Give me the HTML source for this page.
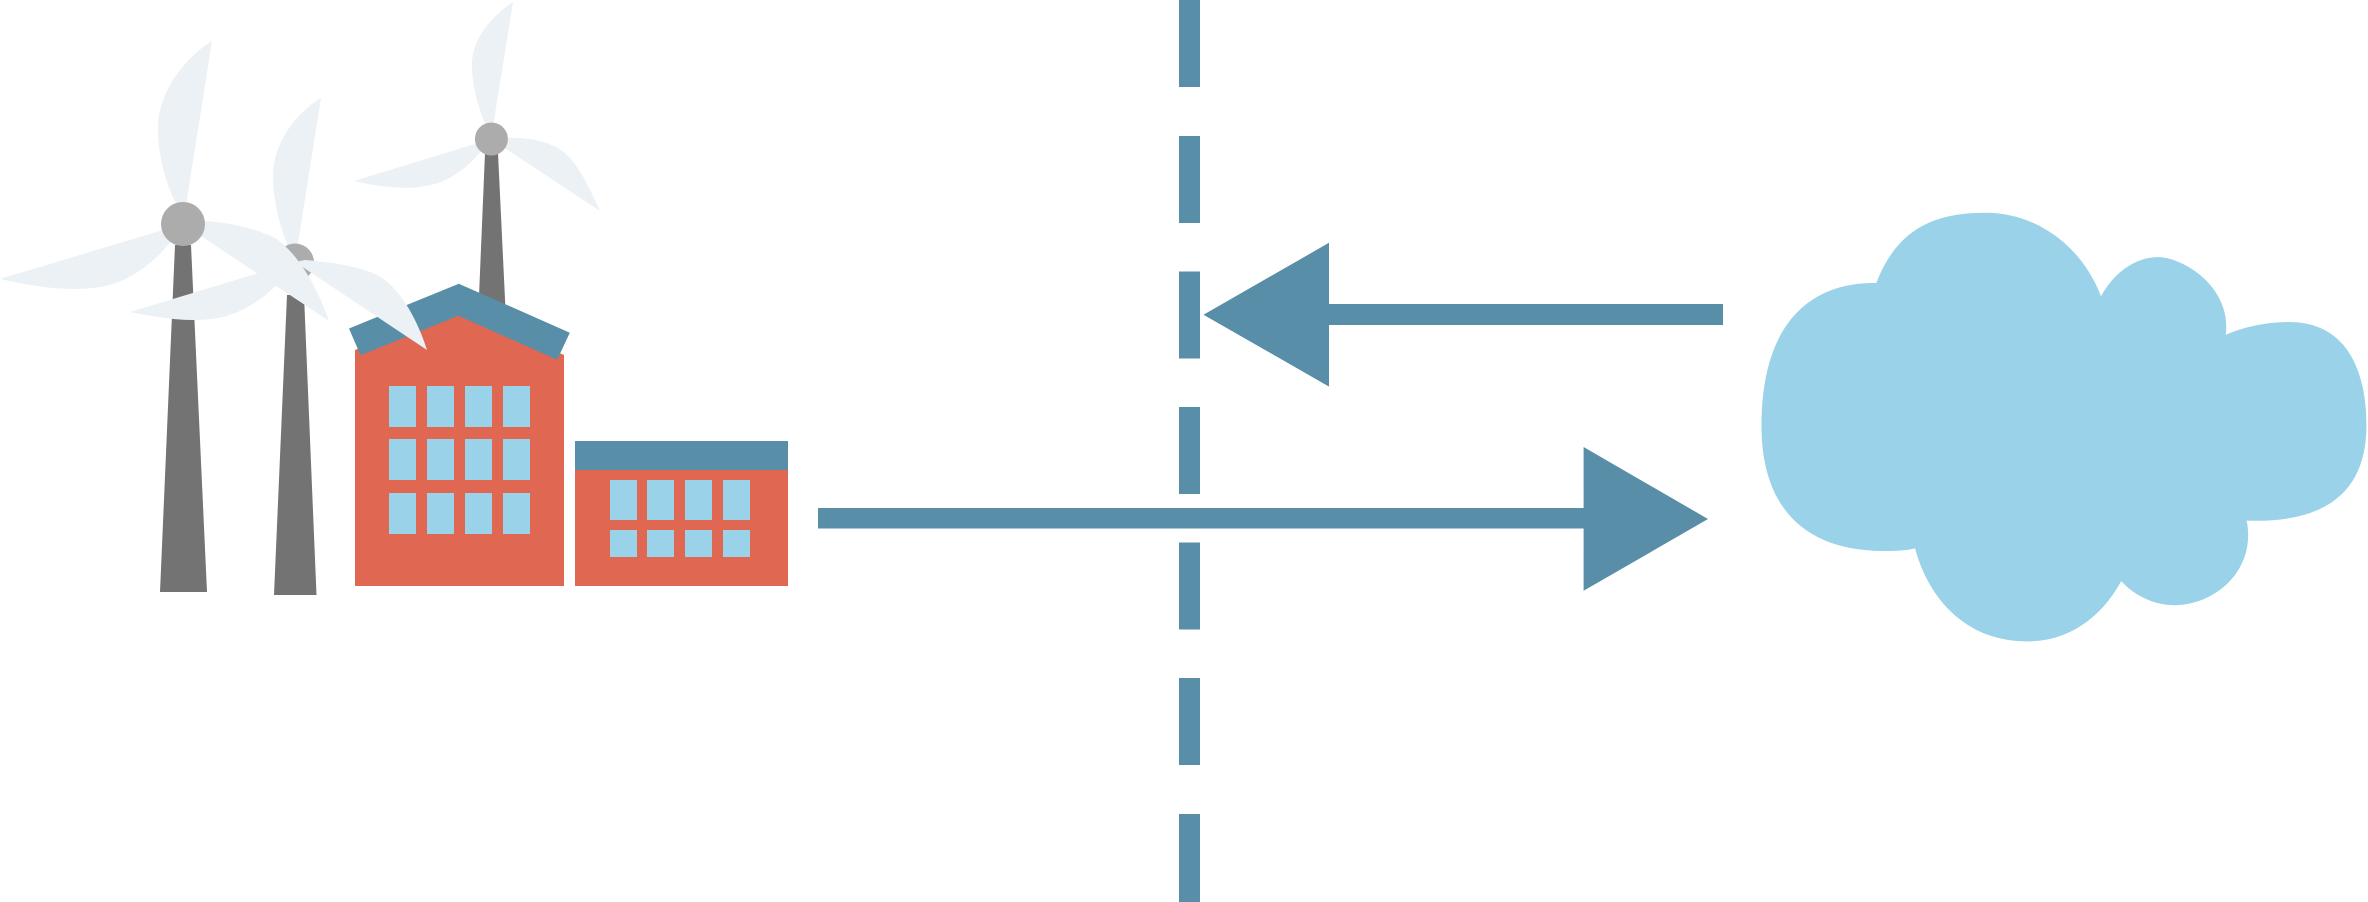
<!DOCTYPE html>
<html><head><meta charset="utf-8"><style>html,body{margin:0;padding:0;background:#fff;}svg{display:block}</style></head>
<body>
<svg width="2368" height="902" viewBox="0 0 2368 902" xmlns="http://www.w3.org/2000/svg">
<!-- right windmill -->
<polygon points="485,153 498,153 506,320 478,320" fill="#727372"/>
<path d="M491,139 L513,2 C490,18 470,40 472,70 C474,100 484,120 491,139 Z" fill="#ebf1f4"/>
<path d="M491,139 L354,181 C380,187 405,190 425,186 C455,182 475,160 491,139 Z" fill="#ebf1f4"/>
<path d="M491,139 L600,211 C590,190 578,160 558,148 C540,138 515,136 491,139 Z" fill="#ebf1f4"/>
<circle cx="491.4" cy="139" r="16.5" fill="#acacac"/>
<!-- left windmill -->
<polygon points="175,245 191,245 207,592 160,592" fill="#727372"/>
<path d="M183,224 L212,41 C185,58 160,90 158,125 C157,160 170,195 180,210 Z" fill="#ebf1f4"/>
<path d="M183,224 L0,279 C35,287 70,292 100,287 C130,282 155,262 172,240 Z" fill="#ebf1f4"/>
<!-- mid windmill -->
<polygon points="287,295 304,295 316.5,595 274,595" fill="#727372"/>
<path d="M295,262 L321,98 C298,112 274,140 273,175 C273,210 285,240 292,255 Z" fill="#ebf1f4"/>
<path d="M295,262 L130,312 C160,318 190,323 218,318 C250,312 272,290 287,275 Z" fill="#ebf1f4"/>
<circle cx="295" cy="262.5" r="19" fill="#acacac"/>
<path d="M183,224 L329,321 C318,290 300,255 275,238 C255,228 225,222 205,221 Z" fill="#ebf1f4"/>
<circle cx="183" cy="224" r="22" fill="#acacac"/>
<!-- main building -->
<polygon points="355,350 458,310 564,355 564,586 355,586" fill="#e06852"/>
<polygon points="349,328.5 458.8,283.7 569.8,332.7 557.2,359.8 458.4,315.8 360.5,355.2" fill="#588ea7"/>
<path d="M295,262 L427,350 C418,322 402,290 379,276 C360,266 330,262 305,260 Z" fill="#ebf1f4"/>
<g fill="#9ad3e9">
<rect x="389" y="386" width="27" height="41"/><rect x="427" y="386" width="27" height="41"/><rect x="465" y="386" width="27" height="41"/><rect x="503" y="386" width="27" height="41"/>
<rect x="389" y="439" width="27" height="41"/><rect x="427" y="439" width="27" height="41"/><rect x="465" y="439" width="27" height="41"/><rect x="503" y="439" width="27" height="41"/>
<rect x="389" y="493" width="27" height="41"/><rect x="427" y="493" width="27" height="41"/><rect x="465" y="493" width="27" height="41"/><rect x="503" y="493" width="27" height="41"/>
</g>
<!-- annex -->
<rect x="575" y="441" width="213" height="145" fill="#e06852"/>
<rect x="575" y="441" width="213" height="29" fill="#588ea7"/>
<g fill="#9ad3e9">
<rect x="610" y="480" width="27" height="40"/><rect x="647" y="480" width="27" height="40"/><rect x="685" y="480" width="27" height="40"/><rect x="723" y="480" width="27" height="40"/>
<rect x="610" y="530" width="27" height="27"/><rect x="647" y="530" width="27" height="27"/><rect x="685" y="530" width="27" height="27"/><rect x="723" y="530" width="27" height="27"/>
</g>
<!-- dashed line -->
<g fill="#588ea7">
<rect x="1179" y="0" width="21" height="87"/>
<rect x="1179" y="136" width="21" height="87"/>
<rect x="1179" y="271.5" width="21" height="87"/>
<rect x="1179" y="407" width="21" height="87"/>
<rect x="1179" y="542.5" width="21" height="87"/>
<rect x="1179" y="678" width="21" height="87"/>
<rect x="1179" y="814" width="21" height="88"/>
</g>
<!-- arrows -->
<g fill="#588ea7">
<rect x="1328" y="304" width="395" height="21"/>
<polygon points="1203.5,314.7 1329,242.8 1329,386.6"/>
<rect x="818" y="508" width="766" height="20.5"/>
<polygon points="1708,519 1583.6,447 1583.6,590.8"/>
</g>
<!-- cloud -->
<path fill="#9ad3e9" d="M1876.3,283 C1896.6,230 1932.9,212.8 1985.5,212.8 C2038,212.8 2082.5,247.4 2101,296.2 C2118.9,264.6 2143.2,257.1 2157.7,257.1 C2183.6,257.1 2232.1,287.6 2225.7,334.8 C2248.3,325 2272.6,322 2288.8,322 C2345.3,322 2366.4,368 2366.4,425.7 C2366.4,489 2329.2,523.5 2246.7,520.6 C2256.4,569.5 2216,605.2 2173.9,605.2 C2151.3,605.2 2131,592.5 2121.3,581 C2102.7,615.5 2070.4,641.4 2027.5,641.4 C1957.2,641.4 1924.9,586.8 1915.1,548.2 C1905,551 1895,551 1884,551 C1803,551 1761.5,506 1761.5,425.7 C1761.5,322 1811.6,281.9 1876.3,283 Z"/>
</svg>
</body></html>
